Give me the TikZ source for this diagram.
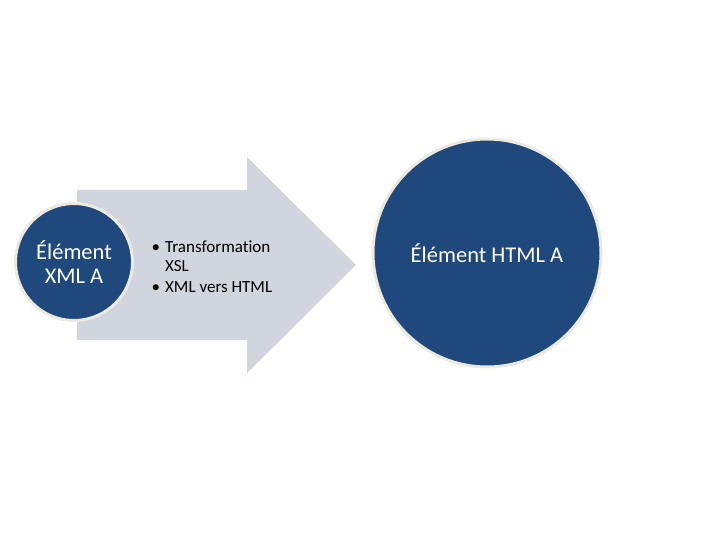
\documentclass[tikz,border=0pt]{standalone}
\usepackage{fontspec}
\setmainfont{Carlito}[Ligatures=NoCommon]
\usetikzlibrary{positioning}
\definecolor{circblue}{RGB}{31,73,125}
\definecolor{circrim}{RGB}{236,234,224}
\definecolor{arrowgray}{RGB}{209,213,222}
\tikzset{
  elem/.style   ={circle, draw=circrim, line width=3pt, fill=circblue, text=white,
                  align=center, font=\fontsize{22.5}{24}\selectfont, inner sep=0pt},
  bullets/.style={align=left, font=\fontsize{17}{18.5}\selectfont, inner sep=0pt,
                  anchor=north west},
}
\newcommand{\bitem}{\textbullet\hspace{5pt}}
\newcommand{\bgap}{\phantom{\textbullet}\hspace{5pt}}

\begin{document}
\begin{tikzpicture}[x=1pt,y=-1pt]
\useasboundingbox (0,0) rectangle (720,540);
% wide arrow behind the first circle
\fill[arrowgray] (77,190) -- (247,190) -- (247,157) -- (356,265)
  -- (247,373) -- (247,340) -- (77,340) -- cycle;
\node[elem, minimum size=117pt] (xmla) at (74,262) {Élément\\XML A};
\node[elem, minimum size=228pt] (htmla) at (487,253) {Élément HTML A};
\node[bullets] (steps) at (151.5,241)
  {\bitem Transformation\\\bgap XSL\\[3pt]\bitem XML vers HTML};
\end{tikzpicture}
\end{document}
